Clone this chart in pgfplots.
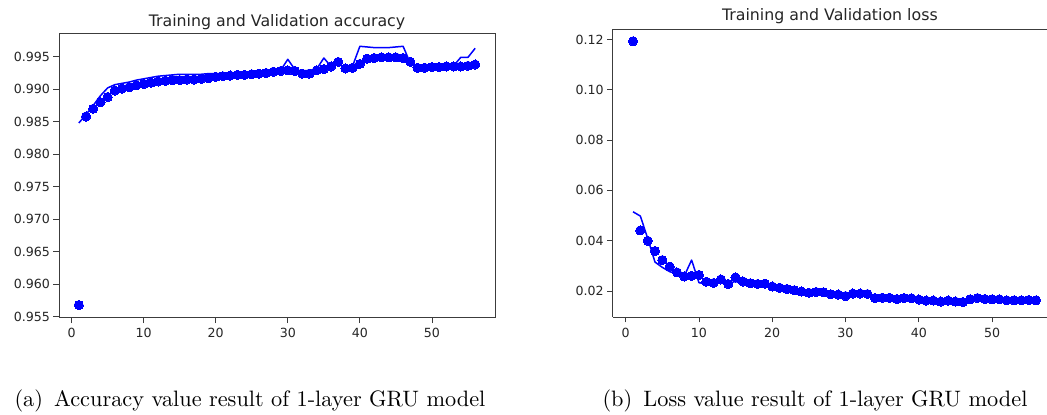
\documentclass[border=0pt]{standalone}
\usepackage{fontspec}
\setmainfont{DejaVu Sans}
\newfontfamily\capfont{lmroman10-regular.otf}
\usepackage{pgfplots}
\pgfplotsset{compat=1.18}
\usepackage{pgfplotstable}

\pgfplotstableread{
x acc
1 0.9568
2 0.9858
3 0.9870
4 0.9880
5 0.9888
6 0.9898
7 0.9901
8 0.9903
9 0.9906
10 0.9908
11 0.9910
12 0.9912
13 0.9913
14 0.9914
15 0.9914
16 0.9915
17 0.9915
18 0.9916
19 0.9917
20 0.9919
21 0.9920
22 0.9921
23 0.9922
24 0.9922
25 0.9923
26 0.9924
27 0.9925
28 0.9927
29 0.9928
30 0.9929
31 0.9928
32 0.9924
33 0.9924
34 0.9929
35 0.9931
36 0.9935
37 0.9942
38 0.9932
39 0.9933
40 0.9939
41 0.9947
42 0.9948
43 0.9949
44 0.9949
45 0.9949
46 0.9948
47 0.9942
48 0.9933
49 0.9933
50 0.9934
51 0.9934
52 0.9935
53 0.9935
54 0.9935
55 0.9936
56 0.9938
}\acctrain

\pgfplotstableread{
x acc
1 0.9848
2 0.9861
3 0.9875
4 0.9890
5 0.9902
6 0.9907
7 0.9909
8 0.9911
9 0.9914
10 0.9916
11 0.9918
12 0.9920
13 0.9921
14 0.9922
15 0.9923
16 0.9923
17 0.9923
18 0.9923
19 0.9924
20 0.9924
21 0.9924
22 0.9925
23 0.9925
24 0.9925
25 0.9926
26 0.9926
27 0.9927
28 0.9928
29 0.9929
30 0.9946
31 0.9930
32 0.9928
33 0.9929
34 0.9931
35 0.9948
36 0.9935
37 0.9938
38 0.9934
39 0.9936
40 0.9966
41 0.9965
42 0.9964
43 0.9964
44 0.9964
45 0.9965
46 0.9966
47 0.9940
48 0.9934
49 0.9934
50 0.9934
51 0.9935
52 0.9935
53 0.9936
54 0.9949
55 0.9949
56 0.9963
}\accval

\pgfplotstableread{
x loss
1 0.1193
2 0.0441
3 0.0400
4 0.0359
5 0.0323
6 0.0297
7 0.0274
8 0.0258
9 0.0260
10 0.0264
11 0.0237
12 0.0232
13 0.0246
14 0.0228
15 0.0254
16 0.0238
17 0.0231
18 0.0228
19 0.0229
20 0.0218
21 0.0213
22 0.0208
23 0.0203
24 0.0198
25 0.0193
26 0.0196
27 0.0195
28 0.0187
29 0.0186
30 0.0180
31 0.0190
32 0.0190
33 0.0188
34 0.0172
35 0.0173
36 0.0173
37 0.0168
38 0.0172
39 0.0171
40 0.0166
41 0.0162
42 0.0162
43 0.0158
44 0.0162
45 0.0158
46 0.0156
47 0.0167
48 0.0172
49 0.0168
50 0.0167
51 0.0167
52 0.0163
53 0.0163
54 0.0163
55 0.0164
56 0.0163
}\losstrain

\pgfplotstableread{
x loss
1 0.0515
2 0.0498
3 0.0410
4 0.0315
5 0.0294
6 0.0277
7 0.0268
8 0.0260
9 0.0323
10 0.0233
11 0.0228
12 0.0232
13 0.0238
14 0.0230
15 0.0238
16 0.0228
17 0.0224
18 0.0222
19 0.0222
20 0.0214
21 0.0209
22 0.0205
23 0.0200
24 0.0196
25 0.0191
26 0.0194
27 0.0193
28 0.0185
29 0.0184
30 0.0178
31 0.0188
32 0.0188
33 0.0186
34 0.0170
35 0.0171
36 0.0171
37 0.0166
38 0.0170
39 0.0169
40 0.0164
41 0.0160
42 0.0160
43 0.0156
44 0.0160
45 0.0156
46 0.0154
47 0.0165
48 0.0170
49 0.0166
50 0.0165
51 0.0165
52 0.0161
53 0.0161
54 0.0161
55 0.0162
56 0.0161
}\lossval

\definecolor{mplblue}{RGB}{0,0,255}
\definecolor{spine}{RGB}{60,60,60}
\definecolor{tlabel}{RGB}{38,38,38}

\pgfplotsset{
  mystyle/.style={
    scale only axis,
    axis line style={spine, line width=0.8bp},
    every tick/.style={spine, line width=0.8bp},
    tick align=outside,
    major tick length=5.5bp,
    xtick pos=bottom, ytick pos=left,
    ticklabel style={font=\fontsize{12.6bp}{14bp}\selectfont, text=tlabel},
    xticklabel style={yshift=-2bp},
    /pgf/number format/assume math mode=true,
    scaled y ticks=false,
    xtick={0,10,20,30,40,50},
    title style={font=\fontsize{15.8bp}{18bp}\selectfont, text=tlabel, anchor=base, at={(0.5,1)}},
    clip=false,
  },
  trainmk/.style={only marks, mark=*, mark size=4.6bp, mark options={draw=mplblue, fill=mplblue, line width=0pt}},
  valln/.style={no marks, draw=mplblue, line width=1.5bp, line join=round},
}

\begin{document}
\begin{tikzpicture}
\useasboundingbox (0bp,0bp) rectangle (1047bp,415bp);
\clip (0bp,0bp) rectangle (1047bp,415bp);
\fill[white] (0bp,0bp) rectangle (1047bp,415bp);

\begin{axis}[mystyle,
  at={(59bp,97.5bp)}, anchor=south west,
  width=436bp, height=284bp,
  xmin=-1.75, xmax=58.75,
  ymin=0.95488, ymax=0.99857,
  ytick={0.955,0.960,0.965,0.970,0.975,0.980,0.985,0.990,0.995},
  yticklabel style={/pgf/number format/.cd, fixed, fixed zerofill, precision=3},
  title={Training and Validation accuracy},
  title style={yshift=1bp},
]
\addplot[trainmk] table[x=x,y=acc] {\acctrain};
\addplot[valln] table[x=x,y=acc] {\accval};
\end{axis}

\begin{axis}[mystyle,
  at={(612.7bp,98bp)}, anchor=south west,
  width=434.3bp, height=287.7bp,
  xmin=-1.77, xmax=57.5,
  ymin=0.00966, ymax=0.12406,
  axis y line*=left,
  every outer y axis line/.append style={-},
  y axis line style={-},
  ytick={0.02,0.04,0.06,0.08,0.10,0.12},
  yticklabel style={/pgf/number format/.cd, fixed, fixed zerofill, precision=2},
  title={Training and Validation loss},
  title style={yshift=2.6bp},
]
\addplot[trainmk] table[x=x,y=loss] {\losstrain};
\addplot[valln] table[x=x,y=loss] {\lossval};
\end{axis}

\node[anchor=base, font=\capfont\fontsize{22.3bp}{26bp}\selectfont, inner sep=0pt] at (250bp,9bp) {(a)\hspace{0.5em}Accuracy value result of 1-layer GRU model};
\node[anchor=base, font=\capfont\fontsize{22.3bp}{26bp}\selectfont, inner sep=0pt] at (815bp,9bp) {(b)\hspace{0.5em}Loss value result of 1-layer GRU model};
\end{tikzpicture}
\end{document}
